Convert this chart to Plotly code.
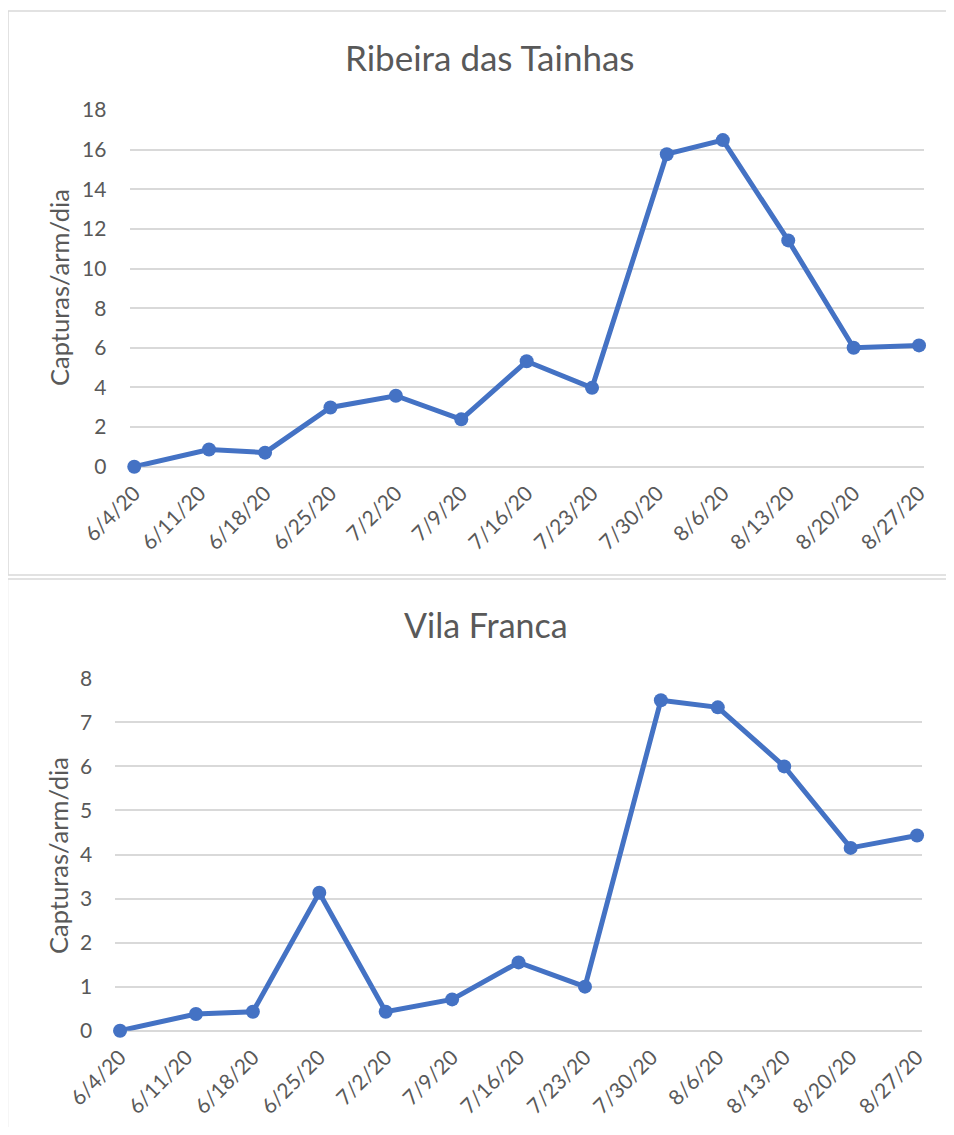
import plotly.graph_objects as go

# ---------------- data ----------------
dates = ["2020-06-04", "2020-06-12", "2020-06-18", "2020-06-25", "2020-07-02",
         "2020-07-09", "2020-07-16", "2020-07-23", "2020-07-31", "2020-08-06",
         "2020-08-13", "2020-08-20", "2020-08-27"]
ribeira_values = [0.0, 0.87, 0.71, 2.99, 3.58, 2.39, 5.32, 3.98, 15.77, 16.48, 11.42, 6.0, 6.12]
vila_values = [0.0, 0.38, 0.43, 3.13, 0.43, 0.71, 1.55, 1.0, 7.5, 7.34, 6.0, 4.15, 4.43]

tick_dates = ["2020-06-04", "2020-06-11", "2020-06-18", "2020-06-25", "2020-07-02",
              "2020-07-09", "2020-07-16", "2020-07-23", "2020-07-30", "2020-08-06",
              "2020-08-13", "2020-08-20", "2020-08-27"]
tick_labels = ["6/4/20", "6/11/20", "6/18/20", "6/25/20", "7/2/20", "7/9/20", "7/16/20",
               "7/23/20", "7/30/20", "8/6/20", "8/13/20", "8/20/20", "8/27/20"]

titles = ["Ribeira das Tainhas", "Vila Franca"]
y_title = "Capturas/arm/dia"

# ---------------- style ----------------
OFF = 8  # page body margin
W, H = 954 - 2 * OFF, 1135 - 2 * OFF  # fit the window
FONT = "Lato"
TXT = "#595959"
GRID = "#D9D9D9"
LINE = "#4472C4"


def px(x):
    return (x - OFF) / W


def py(y):
    return 1 - (y - OFF) / H


fig = go.Figure()

fig.add_trace(go.Scatter(x=dates, y=ribeira_values, mode="lines+markers",
                         line=dict(color=LINE, width=5), marker=dict(color=LINE, size=14),
                         cliponaxis=False, xaxis="x", yaxis="y", showlegend=False))
fig.add_trace(go.Scatter(x=dates, y=vila_values, mode="lines+markers",
                         line=dict(color=LINE, width=5), marker=dict(color=LINE, size=14),
                         cliponaxis=False, xaxis="x2", yaxis="y2", showlegend=False))

xcommon = dict(type="date", range=["2020-06-03 12:00", "2020-08-27 12:00"],
               tickmode="array", tickvals=tick_dates, ticktext=tick_labels,
               tickangle=-45, showgrid=False, zeroline=False, showline=False,
               ticks="outside", ticklen=5, tickcolor="rgba(0,0,0,0)", automargin=False,
               tickfont=dict(family=FONT, size=21, color=TXT))
ycommon = dict(showgrid=True, gridcolor=GRID, gridwidth=1.5, zeroline=True,
               zerolinecolor=GRID, zerolinewidth=1.5, showline=False,
               ticks="outside", ticklen=18, tickcolor="rgba(0,0,0,0)", automargin=False,
               tickfont=dict(family=FONT, size=21, color=TXT))

fig.update_layout(
    width=W, height=H, autosize=False,
    margin=dict(l=0, r=0, t=0, b=0, pad=0),
    paper_bgcolor="white", plot_bgcolor="white",
    xaxis=dict(domain=[px(129.6), px(923.7)], anchor="y", **xcommon),
    yaxis=dict(domain=[py(466.7), py(110)], anchor="x", range=[0, 18], dtick=2, **ycommon),
    xaxis2=dict(domain=[px(115.3), px(921.8)], anchor="y2", **xcommon),
    yaxis2=dict(domain=[py(1030.7), py(678.3)], anchor="x2", range=[0, 8], dtick=1, **ycommon),
)

# chart frames: open on the right/bottom (they run past the page edge in the reference)
frame = dict(type="line", xref="paper", yref="paper", line=dict(color=GRID, width=1.5), layer="below")
fig.add_shape(x0=px(8), x1=px(960), y0=py(11), y1=py(11), **frame)      # top 1
fig.add_shape(x0=px(8), x1=px(8), y0=py(11), y1=py(575), **frame)       # left 1
fig.add_shape(x0=px(8), x1=px(960), y0=py(575), y1=py(575), **frame)    # bottom 1
fig.add_shape(x0=px(7.5), x1=px(960), y0=py(579), y1=py(579), **frame)  # top 2
fig.add_shape(x0=px(7.5), x1=px(7.5), y0=py(579), y1=py(1140), **frame) # left 2

# titles
fig.add_annotation(text=titles[0], xref="paper", yref="paper", x=px(489.5), y=py(57),
                   showarrow=False, xanchor="center", yanchor="middle",
                   font=dict(family=FONT, size=35, color=TXT))
fig.add_annotation(text=titles[1], xref="paper", yref="paper", x=px(486), y=py(624),
                   showarrow=False, xanchor="center", yanchor="middle",
                   font=dict(family=FONT, size=34, color=TXT))

# axis titles
fig.add_annotation(text=y_title, xref="paper", yref="paper", x=px(59), y=py(288),
                   showarrow=False, textangle=-90, xanchor="center", yanchor="middle",
                   font=dict(family=FONT, size=25.5, color=TXT))
fig.add_annotation(text=y_title, xref="paper", yref="paper", x=px(58), y=py(856),
                   showarrow=False, textangle=-90, xanchor="center", yanchor="middle",
                   font=dict(family=FONT, size=25.5, color=TXT))

fig.write_html("out.html")
